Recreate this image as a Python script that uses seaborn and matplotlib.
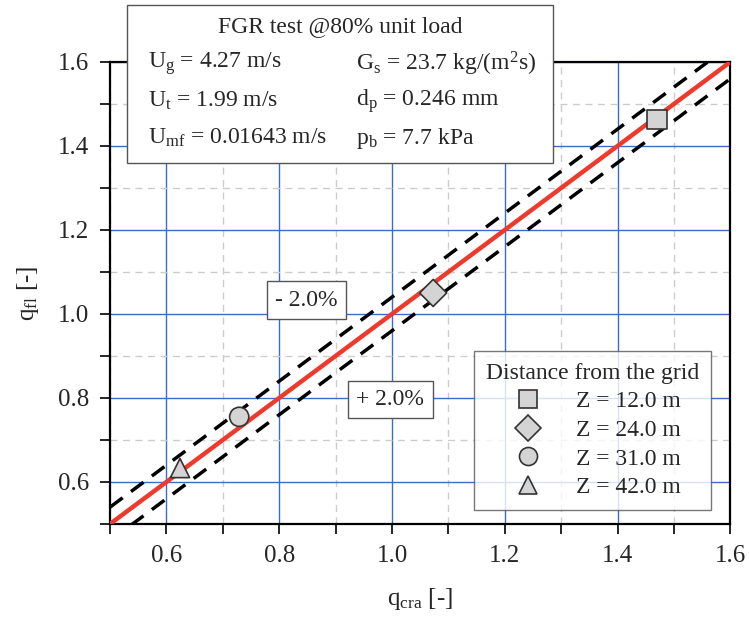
import numpy as np
import pandas as pd
import seaborn as sns
from matplotlib import pyplot as plt
from matplotlib.patches import Rectangle
from matplotlib.ticker import MultipleLocator

# measured points
q_cra = [1.47, 1.073, 0.729, 0.624]
q_fl = [1.464, 1.05, 0.755, 0.633]
heights = ['Z = 12.0 m', 'Z = 24.0 m', 'Z = 31.0 m', 'Z = 42.0 m']
marker_list = ['s', 'D', 'o', '^']

# parity line and +/- band
line_x = [0.5, 1.6]
band = 0.04

info_left = ['U$_\\mathrm{g}$ = 4.27 m/s', 'U$_\\mathrm{t}$ = 1.99 m/s',
             'U$_\\mathrm{mf}$ = 0.01643 m/s']
info_right = ['G$_\\mathrm{s}$ = 23.7 kg/(m$^\\mathrm{2}$s)', 'd$_\\mathrm{p}$ = 0.246 mm',
              'p$_\\mathrm{b}$ = 7.7 kPa']

sns.set_style('white')
plt.rcParams['font.family'] = ['Liberation Serif', 'DejaVu Serif']
plt.rcParams['mathtext.fontset'] = 'custom'
plt.rcParams['mathtext.rm'] = 'Liberation Serif'
plt.rcParams['mathtext.it'] = 'Liberation Serif:italic'

df = pd.DataFrame({'q_cra': q_cra, 'q_fl': q_fl, 'Z': heights})

fig = plt.figure(figsize=(7.49, 6.2), dpi=100)
ax = fig.add_axes([0.147, 0.155, 0.828, 0.745])

ax.set_xlim(0.5, 1.6)
ax.set_ylim(0.5, 1.6)
ax.xaxis.set_major_locator(MultipleLocator(0.2))
ax.xaxis.set_minor_locator(MultipleLocator(0.1))
ax.yaxis.set_major_locator(MultipleLocator(0.2))
ax.yaxis.set_minor_locator(MultipleLocator(0.1))
ax.grid(which='major', color='#3a6cc8', lw=1.0, ls='-')
ax.grid(which='minor', color='#cccccc', lw=1.0, ls=(0, (5, 4)))
ax.set_axisbelow(True)

lx = np.array(line_x)
ax.plot(lx, lx + band, color='black', lw=2.5, ls=(0, (4.5, 3)), zorder=2)
ax.plot(lx, lx - band, color='black', lw=2.5, ls=(0, (4.5, 3)), zorder=2)
sns.lineplot(x=lx, y=lx, color='#ee3a2c', lw=3.2, ax=ax, zorder=3)

sns.scatterplot(data=df, x='q_cra', y='q_fl', style='Z', markers=dict(zip(heights, marker_list)),
                s=190, color='#d4d4d4', edgecolor='#333333', linewidth=1.2, ax=ax, zorder=4,
                legend=False)

handles = [plt.Line2D([], [], ls='none', marker=m, ms=13, mfc='#d4d4d4', mec='#333333', mew=1.2)
           for m in marker_list]
leg = ax.legend(handles, heights, title='Distance from the grid', loc='lower right',
                bbox_to_anchor=(0.969, 0.03), borderaxespad=0, fontsize=17, title_fontsize=17,
                frameon=True, fancybox=False, edgecolor='#555555', borderpad=0.5,
                labelspacing=0.3, handletextpad=1.0)
leg.get_frame().set_linewidth(1.0)

for sp in ax.spines.values():
    sp.set_color('black')
    sp.set_linewidth(1.6)
ax.tick_params(which='both', direction='out', length=7, width=1.2, color='black',
               left=True, bottom=True, top=False, right=False)
ax.tick_params(which='major', labelsize=18, pad=8)

ax.set_xlabel('q$_\\mathrm{cra}$ [-]', fontsize=18, labelpad=14)
ax.set_ylabel('q$_\\mathrm{fl}$ [-]', fontsize=18, labelpad=12)

box = dict(boxstyle='square,pad=0.35', fc='white', ec='#555555', lw=1.0)
ax.text(0.848, 1.033, '- 2.0%', fontsize=17, ha='center', va='center', bbox=box, zorder=5)
ax.text(0.997, 0.796, '+ 2.0%', fontsize=17, ha='center', va='center', bbox=box, zorder=5)

# info box above the plot
fig.patches.append(Rectangle((127 / 749, 1 - 163 / 620), 426 / 749, 158 / 620,
                             transform=fig.transFigure, fc='white', ec='#555555', lw=1.0,
                             zorder=5))
fig.text(340 / 749, 1 - 27 / 620, 'FGR test @80% unit load', fontsize=17, ha='center',
         va='center', zorder=6)
for i in range(3):
    yy = 1 - (64 + 37 * i) / 620
    fig.text(148 / 749, yy, info_left[i], fontsize=17, va='center', zorder=6)
    fig.text(356 / 749, yy, info_right[i], fontsize=17, va='center', zorder=6)

fig.savefig('out.png', dpi=100)
